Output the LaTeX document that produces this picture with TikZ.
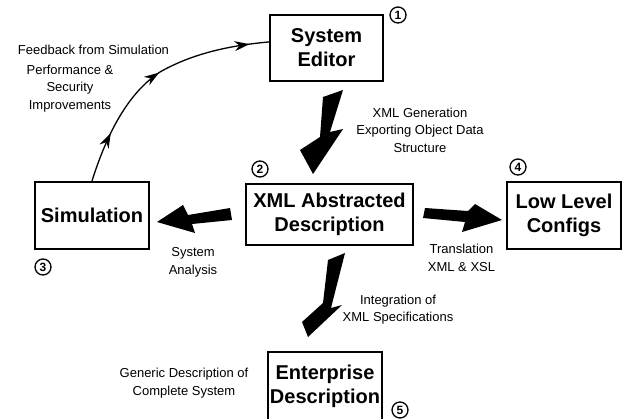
\documentclass[tikz,border=0pt]{standalone}
\usepackage{fontspec}
\setmainfont{Liberation Sans}
\usetikzlibrary{arrows.meta,decorations.markings}

\begin{document}
\begin{tikzpicture}[x=1pt,y=-1pt,
    box/.style={draw,line width=2.2pt,align=center,inner sep=0pt,
      font=\fontsize{20}{24}\selectfont\bfseries},
    note/.style={align=center,inner sep=0pt,font=\fontsize{13}{17.5}\selectfont},
    num/.style={draw,circle,line width=1.3pt,inner sep=0pt,minimum size=16pt,
      font=\fontsize{12}{12}\selectfont\bfseries}]
      \clip (0,0) rectangle (623,418);
      %% boxes
      \node [box,minimum width=113pt,minimum height=66pt] (editor) at (326.5,48) {System\\Editor};
      \node [box,minimum width=167pt,minimum height=61pt] (xml) at (329.5,214.5) {XML Abstracted\\Description};
      \node [box,minimum width=114pt,minimum height=67pt] (sim) at (92,215.5) {Simulation};
      \node [box,minimum width=114pt,minimum height=67pt] (low) at (564,215.5) {Low Level\\Configs};
      \node [box,minimum width=114pt,minimum height=68pt] (ent) at (325,386) {Enterprise\\Description};
      %% numbers
      \node [num] (n1) at (398,15) {1};
      \node [num] (n2) at (260,169) {2};
      \node [num] (n3) at (43,267) {3};
      \node [num] (n4) at (518,167) {4};
      \node [num] (n5) at (400,410) {5};
      %% notes
      \node [note] (fb) at (93.5,50) {Feedback from Simulation};
      \node [note] (perf) at (70,88.5) {Performance \&\\Security\\Improvements};
      \node [note] (gen) at (420,130) {XML Generation\\Exporting Object Data\\Structure};
      \node [note] (ana) at (193,262.5) {System\\Analysis};
      \node [note] (trans) at (461.5,258) {Translation\\XML \& XSL};
      \node [note] (integ) at (398,309.5) {Integration of\\XML Specifications};
      \node [note] (generic) at (184,383) {Generic Description of\\Complete System};
      %% feedback arrow
      \draw [line width=1.3pt,postaction={decorate},decoration={markings,
          mark=at position 0.21 with {\arrow{Stealth[length=15pt,width=10pt]}},
          mark=at position 0.53 with {\arrow{Stealth[length=15pt,width=10pt]}},
          mark=at position 0.92 with {\arrow{Stealth[length=15pt,width=10pt]}}}]
        (sim.north) .. controls (105,140) and (125,95) .. (160,72)
        .. controls (195,52) and (235,45) .. (editor.174);
      %% block arrows
      \fill (343,90) -- (323,97) -- (320,137) -- (300,150) -- (313,174)
        -- (343,129) -- (330,132) -- cycle;
      \fill (345,253) -- (328,260) -- (323,303) -- (302,322) -- (308,337)
        -- (342,305) -- (331,308) -- cycle;
      \fill (157,222) -- (183,205) -- (188,215) -- (230,208) -- (232,220)
        -- (192,224) -- (195,233) -- cycle;
      \fill (425,208) -- (468,211) -- (475,204) -- (502,220) -- (462,232)
        -- (465,222) -- (423,218) -- cycle;
    \end{tikzpicture}
\end{document}
